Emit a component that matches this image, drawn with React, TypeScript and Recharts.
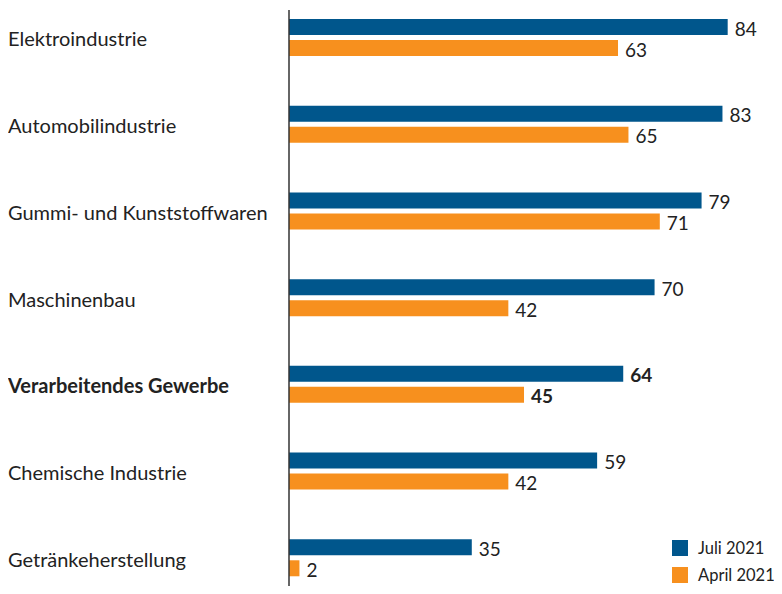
import {Bar, BarChart, LabelList, Legend, XAxis, YAxis} from 'recharts';

const categories = [
    'Elektroindustrie',
    'Automobilindustrie',
    'Gummi- und Kunststoffwaren',
    'Maschinenbau',
    'Verarbeitendes Gewerbe',
    'Chemische Industrie',
    'Getränkeherstellung',
];
const juli2021 = [84, 83, 79, 70, 64, 59, 35];
const april2021 = [63, 65, 71, 42, 45, 42, 2];
const highlighted = 'Verarbeitendes Gewerbe';

const data = categories.map((name, i) => ({
    name,
    juli: juli2021[i],
    april: april2021[i],
}));

const BLUE = '#00568c';
const ORANGE = '#f7901e';
const TEXT = '#222';
const FONT = 'Lato, "Noto Sans", sans-serif';

const CategoryTick = (props: any) => {
    const {y, payload} = props;
    const bold = payload.value === highlighted;
    return (
        <text x={0} y={y + 1} dominantBaseline="central" textAnchor="start" fill={TEXT}
              fontSize={20} fontFamily={FONT} fontWeight={bold ? 700 : 400}>
            {payload.value}
        </text>
    );
};

const ValueLabel = (props: any) => {
    const {x, y, width, height, value, index} = props;
    const bold = categories[index] === highlighted;
    return (
        <text x={x + width + 7} y={y + height / 2 + 1} dominantBaseline="central" fill={TEXT}
              fontSize={19} fontFamily={FONT} fontWeight={bold ? 700 : 400}>
            {value}
        </text>
    );
};

const LegendBox = () => (
    <div style={{fontFamily: FONT, fontSize: 16.5, color: TEXT, whiteSpace: 'nowrap'}}>
        {[{label: 'Juli 2021', color: BLUE}, {label: 'April 2021', color: ORANGE}].map(item => (
            <div key={item.label} style={{display: 'flex', alignItems: 'center', height: 27}}>
                <span style={{width: 16, height: 16, flex: 'none', background: item.color, marginRight: 10}}/>
                <span>{item.label}</span>
            </div>
        ))}
    </div>
);

export default function App() {
    return (
        <BarChart
            layout="vertical"
            width={774}
            height={586}
            data={data}
            barGap={5}
            barSize={16}
            style={{marginBottom: -8}}
            margin={{top: 2, right: 0, bottom: 0, left: 0}}
        >
            <XAxis type="number" domain={[0, 94.4]} hide />
            <YAxis
                type="category"
                dataKey="name"
                width={281}
                tickLine={false}
                axisLine={{stroke: '#333', strokeWidth: 1.5}}
                tick={<CategoryTick />}
                padding={{top: -16, bottom: -7}}
            />
            <Legend
                layout="horizontal"
                align="center"
                verticalAlign="middle"
                content={<LegendBox />}
                wrapperStyle={{left: 664, top: 526, width: 100}}
            />
            <Bar dataKey="juli" name="Juli 2021" fill={BLUE} isAnimationActive={false}>
                <LabelList dataKey="juli" content={<ValueLabel />} />
            </Bar>
            <Bar dataKey="april" name="April 2021" fill={ORANGE} isAnimationActive={false}>
                <LabelList dataKey="april" content={<ValueLabel />} />
            </Bar>
        </BarChart>
    );
}
